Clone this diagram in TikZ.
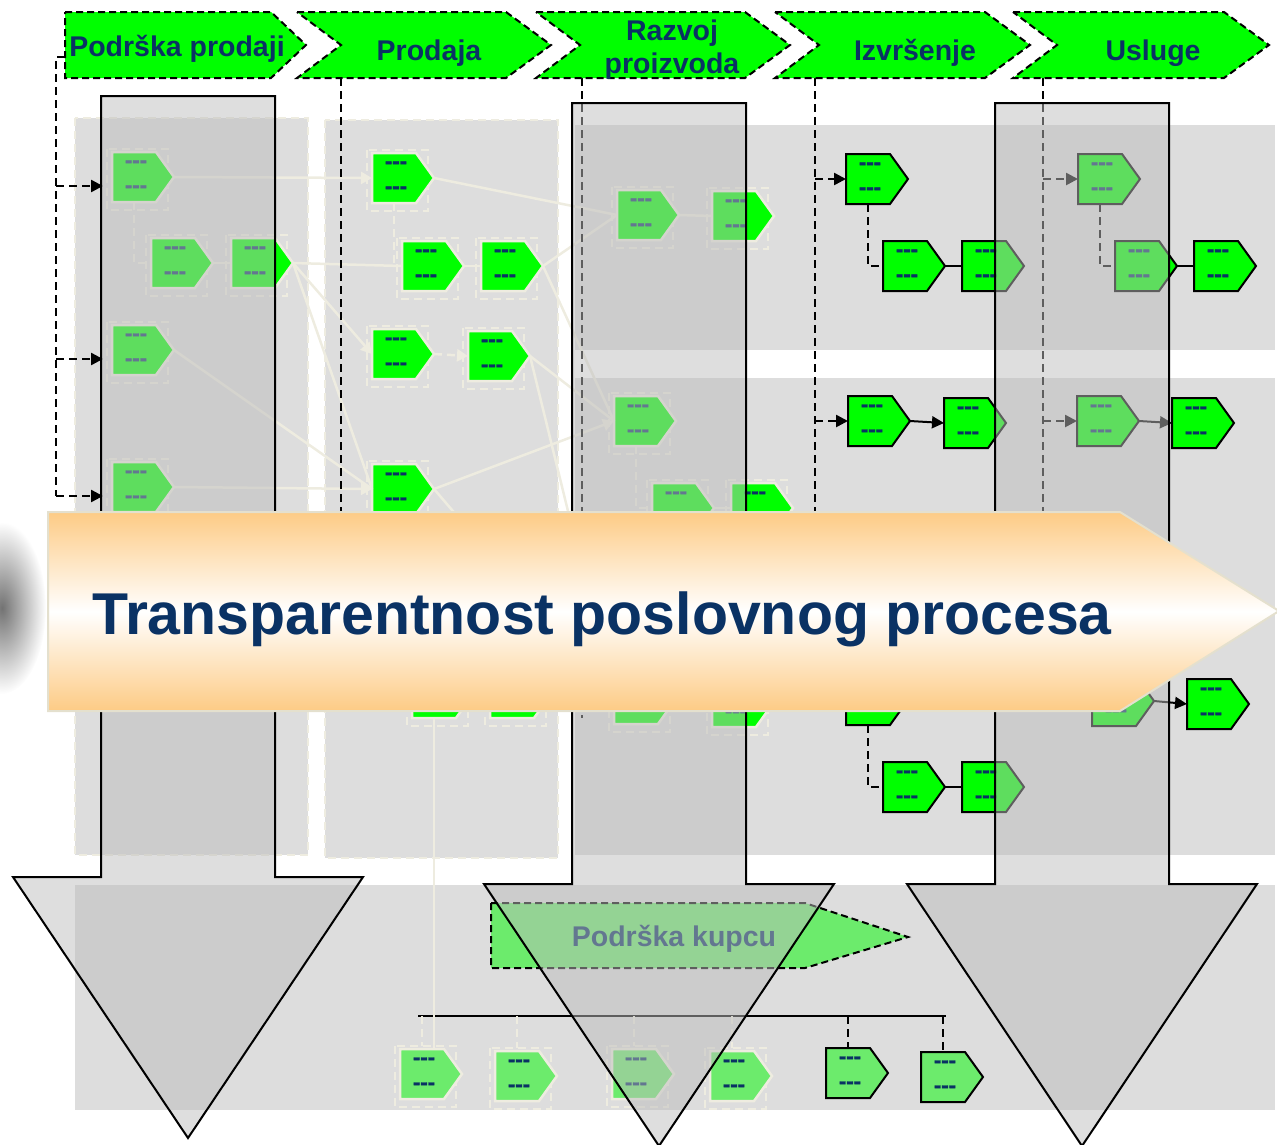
\documentclass[tikz,border=0pt]{standalone}
\usepackage{fontspec}
\setmainfont{Liberation Sans}
\usetikzlibrary{arrows.meta,calc}

\definecolor{procgreen}{RGB}{0,255,0}
\definecolor{softgreen}{RGB}{108,235,108}
\definecolor{navy}{RGB}{10,50,100}
\definecolor{panelgray}{RGB}{221,221,221}
\definecolor{cream}{RGB}{238,236,224}
\definecolor{arrowgray}{RGB}{189,189,189}
\definecolor{bandorange}{RGB}{253,203,133}
\definecolor{bandedge}{RGB}{228,224,206}

\tikzset{
  panel/.style={fill=panelgray},
  crmbox/.style={draw=cream, line width=2pt, dash pattern=on 8pt off 5pt},
  selframe/.style={},
  crm/.style={fill=procgreen, draw=cream, line width=2.5pt, selframe/.style=crmbox},
  crmsoft/.style={crm, fill=softgreen},
  blk/.style={fill=procgreen, draw=black, line width=2pt},
  blksoft/.style={blk, fill=softgreen},
  dashtext/.style={text=navy, inner sep=0pt,
    font=\bfseries\fontsize{22}{22}\selectfont\addfontfeature{FakeBold=2}},
  proc/.pic={
    \path[selframe] (-5,-28) rectangle (56,33);
    \path[pic actions] (0,-25) -- (44,-25) -- (62,0) -- (44,25) -- (0,25) -- cycle;
    \node[dashtext] (-top) at (24,-13) {-{}-{}-};
    \node[dashtext] (-bot) at (24,12) {-{}-{}-};
    \coordinate (-w) at (0,0);
    \coordinate (-in) at (0,9);
    \coordinate (-e) at (62,0);
    \coordinate (-n) at (22,-25);
    \coordinate (-s) at (22,25);
  },
  crmlink/.style={draw=cream, line width=2.5pt},
  crmdash/.style={crmlink, dash pattern=on 8pt off 5pt},
  crmtip/.style={-{Triangle[length=11pt,width=12pt]}},
  hdrlink/.style={draw=black, line width=2.5pt, dash pattern=on 8pt off 5pt},
  blklink/.style={draw=black, line width=2pt},
  blktip/.style={-{Triangle[length=12pt,width=12pt]}},
  bigdown/.style={fill=arrowgray, fill opacity=0.5, draw=black, line width=2pt},
  hdr/.style={fill=procgreen, draw=black, line width=2pt, dash pattern=on 7pt off 4pt},
  hdrtext/.style={text=navy, inner sep=0pt, align=center, font=\bfseries\fontsize{28.5}{33}\selectfont},
  kupacbox/.style={fill=softgreen, draw=black, line width=2pt, dash pattern=on 7pt off 4pt},
  procband/.style={top color=bandorange, bottom color=bandorange, middle color=white, draw=bandedge, line width=2pt},
  bandtext/.style={text=navy, inner sep=0pt, font=\bfseries\fontsize{59}{59}\selectfont},
}

\begin{document}
\begin{tikzpicture}[x=1pt, y=-1pt]
  \useasboundingbox (0,0) rectangle (1277,1144);

  % background panels
  \draw[panel, crmbox] (75,118) rectangle (308,855);
  \draw[panel, crmbox] (325,120) rectangle (558,858);
  \path[panel] (575,125) rectangle (1275,350);
  \path[panel] (575,378) rectangle (1275,855);
  \path[panel] (75,885) rectangle (1275,1110);

  \coordinate (drop1) at (56,57);
  \coordinate (drop2) at (341,78);
  \coordinate (drop3) at (582,78);
  \coordinate (drop4) at (815,78);
  \coordinate (drop5) at (1043,78);

  % light process steps
  \pic[crm] (A1) at (112,177) {proc};
  \pic[crm] (A2) at (151,263) {proc};
  \pic[crm] (A3) at (231,263) {proc};
  \pic[crm] (A4) at (112,350) {proc};
  \pic[crm] (A5) at (112,487) {proc};
  \pic[crm] (B1) at (372,178) {proc};
  \pic[crm] (B2) at (402,266) {proc};
  \pic[crm] (B3) at (481,266) {proc};
  \pic[crm] (B4) at (372,354) {proc};
  \pic[crm] (B5) at (468,356) {proc};
  \pic[crm] (B6) at (372,489) {proc};
  \pic[crm] (B7) at (412,693) {proc};
  \pic[crm] (B8) at (490,693) {proc};
  \pic[crm] (C1) at (617,215) {proc};
  \pic[crm] (C2) at (712,216) {proc};
  \pic[crm] (C3) at (614,421) {proc};
  \pic[crm] (C4) at (652,508) {proc};
  \pic[crm] (C5) at (731,508) {proc};
  \pic[crm] (C6) at (614,699) {proc};
  \pic[crm] (C7) at (712,702) {proc};

  \draw[crmlink, crmtip] (A1-e) -- (B1-w);
  \draw[crmdash] (A1-s) |- (A2-w);
  \draw[crmlink] (A2-e) -- (A3-w);
  \draw[crmlink] (A3-e) -- (B2-w);
  \draw[crmlink, crmtip] (A3-e) -- (B4-w);
  \draw[crmlink] (A3-e) -- (B6-w);
  \draw[crmlink] (A4-e) -- (B6-w);
  \draw[crmlink, crmtip] (A5-e) -- (B6-w);
  \draw[crmlink] (B1-e) -- (C1-w);
  \draw[crmdash] (B1-s) |- (B2-w);
  \draw[crmlink] (B2-e) -- (B3-w);
  \draw[crmlink] (B3-e) -- (C1-w);
  \draw[crmlink] (B3-e) -- (C3-w);
  \draw[crmdash, crmtip] (B4-e) -- (B5-w);
  \draw[crmlink] (B5-e) -- (C3-w);
  \draw[crmlink] (B5-e) -- (C6-w);
  \draw[crmlink, crmtip] (B6-e) -- (C3-w);
  \draw[crmlink] (B6-e) -- (C6-w);
  \draw[crmlink] (B7-e) -- (B8-w);
  \draw[crmlink] (C1-e) -- (C2-w);
  \draw[crmdash] (C3-s) |- (C4-w);
  \draw[crmlink] (C4-e) -- (C5-w);

  % execution and services steps
  \pic[blk] (D1) at (846,179) {proc};
  \pic[blk] (D2) at (883,266) {proc};
  \pic[blk] (D3) at (962,266) {proc};
  \pic[blk] (D4) at (848,421) {proc};
  \pic[blk] (D5) at (944,423) {proc};
  \pic[blk] (D6) at (846,700) {proc};
  \pic[blk] (D7) at (883,787) {proc};
  \pic[blk] (D8) at (962,787) {proc};
  \pic[blk] (E1) at (1078,179) {proc};
  \pic[blk] (E2) at (1115,266) {proc};
  \pic[blk] (E3) at (1194,266) {proc};
  \pic[blk] (E4) at (1077,421) {proc};
  \pic[blk] (E5) at (1172,423) {proc};
  \pic[blk] (E6) at (1092,701) {proc};
  \pic[blk] (E7) at (1187,704) {proc};

  % drops from the headers
  \draw[hdrlink] (65,57) -- (drop1) -- (drop1 |- A5-in);
  \draw[hdrlink, blktip, shorten >=9pt] (drop1 |- A1-in) -- (A1-in);
  \draw[hdrlink, blktip, shorten >=9pt] (drop1 |- A4-in) -- (A4-in);
  \draw[hdrlink, blktip, shorten >=9pt] (drop1 |- A5-in) -- (A5-in);
  \draw[hdrlink] (drop2) -- ++(0,520);
  \draw[hdrlink] (drop3) -- ++(0,640);
  \draw[hdrlink] (drop4) -- (drop4 |- D6-w);
  \draw[hdrlink, blktip] (drop4 |- D1-w) -- (D1-w);
  \draw[hdrlink, blktip] (drop4 |- D4-w) -- (D4-w);
  \draw[hdrlink, blktip] (drop4 |- D6-w) -- (D6-w);
  \draw[hdrlink] (drop5) -- (drop5 |- E6-w);
  \draw[hdrlink, blktip] (drop5 |- E1-w) -- (E1-w);
  \draw[hdrlink, blktip] (drop5 |- E4-w) -- (E4-w);
  \draw[hdrlink, blktip] (drop5 |- E6-w) -- (E6-w);

  \draw[hdrlink] (D1-s) |- (D2-w);
  \draw[blklink] (D2-e) -- (D3-w);
  \draw[blklink, blktip] (D4-e) -- (D5-w);
  \draw[hdrlink] (D6-s) |- (D7-w);
  \draw[blklink] (D7-e) -- (D8-w);
  \draw[hdrlink] (E1-s) |- (E2-w);
  \draw[blklink] (E2-e) -- (E3-w);
  \draw[blklink, blktip] (E4-e) -- (E5-w);
  \draw[blklink, blktip] (E6-e) -- (E7-w);

  % customer support
  \draw[kupacbox] (491,903) -- (805,903) -- (908,937) -- (805,968) -- (491,968) -- cycle;
  \node[hdrtext, anchor=base] (kupac) at (674,946) {Podrška kupcu};

  \draw[blklink] (418,1016) coordinate (bus-w) -- (946,1016) coordinate (bus-e);
  \pic[crmsoft] (F1) at (400,1074) {proc};
  \pic[crmsoft] (F2) at (495,1076) {proc};
  \pic[crmsoft] (F3) at (612,1074) {proc};
  \pic[crmsoft] (F4) at (710,1076) {proc};
  \pic[blksoft] (F5) at (826,1073) {proc};
  \pic[blksoft] (F6) at (921,1077) {proc};
  \draw[crmdash, shorten >=3pt] (F1-n |- bus-w) -- (F1-n);
  \draw[crmdash, shorten >=3pt] (F2-n |- bus-w) -- (F2-n);
  \draw[crmdash, shorten >=3pt] (F3-n |- bus-w) -- (F3-n);
  \draw[crmdash, shorten >=3pt] (F4-n |- bus-w) -- (F4-n);
  \draw[hdrlink] (F5-n |- bus-w) -- (F5-n);
  \draw[hdrlink] (F6-n |- bus-w) -- (F6-n);
  \draw[crmlink] (B7-s) -- (B7-s |- F1-n);

  % big grey down arrows
  \foreach \xc/\yt/\yh/\ytip in {188/96/877/1138, 659/103/884/1146, 1082/103/884/1146}
    \draw[bigdown] (\xc-87,\yt) -- (\xc+87,\yt) -- (\xc+87,\yh) -- (\xc+175,\yh)
      -- (\xc,\ytip) -- (\xc-175,\yh) -- (\xc-87,\yh) -- cycle;

  % value chain headers
  \draw[hdr] (65,12) -- (271,12) -- (306,45) -- (271,78) -- (65,78) -- cycle;
  \foreach \l/\r in {297/506, 536/745, 775/985, 1013/1224}
    \draw[hdr] (\l,12) -- (\r,12) -- (\r+45,45) -- (\r,78) -- (\l,78) -- (\l+44,45) -- cycle;
  \node[hdrtext, anchor=base] (hdr1) at (177,56) {Podrška prodaji};
  \node[hdrtext, anchor=base] (hdr2) at (429,60) {Prodaja};
  \node[hdrtext] (hdr3) at (672,50) {Razvoj\\proizvoda};
  \node[hdrtext, anchor=base] (hdr4) at (915,60) {Izvršenje};
  \node[hdrtext, anchor=base] (hdr5) at (1153,60) {Usluge};

  % photo at the left edge
  \shade[inner color=black!55, outer color=white] (2,608) ellipse [x radius=44, y radius=86];

  % transparency band
  \draw[procband] (48,512) -- (1120,512) -- (1279,611) -- (1120,711) -- (48,711) -- cycle;
  \node[bandtext, anchor=base west] (band) at (92,634) {Transparentnost poslovnog procesa};
\end{tikzpicture}
\end{document}
